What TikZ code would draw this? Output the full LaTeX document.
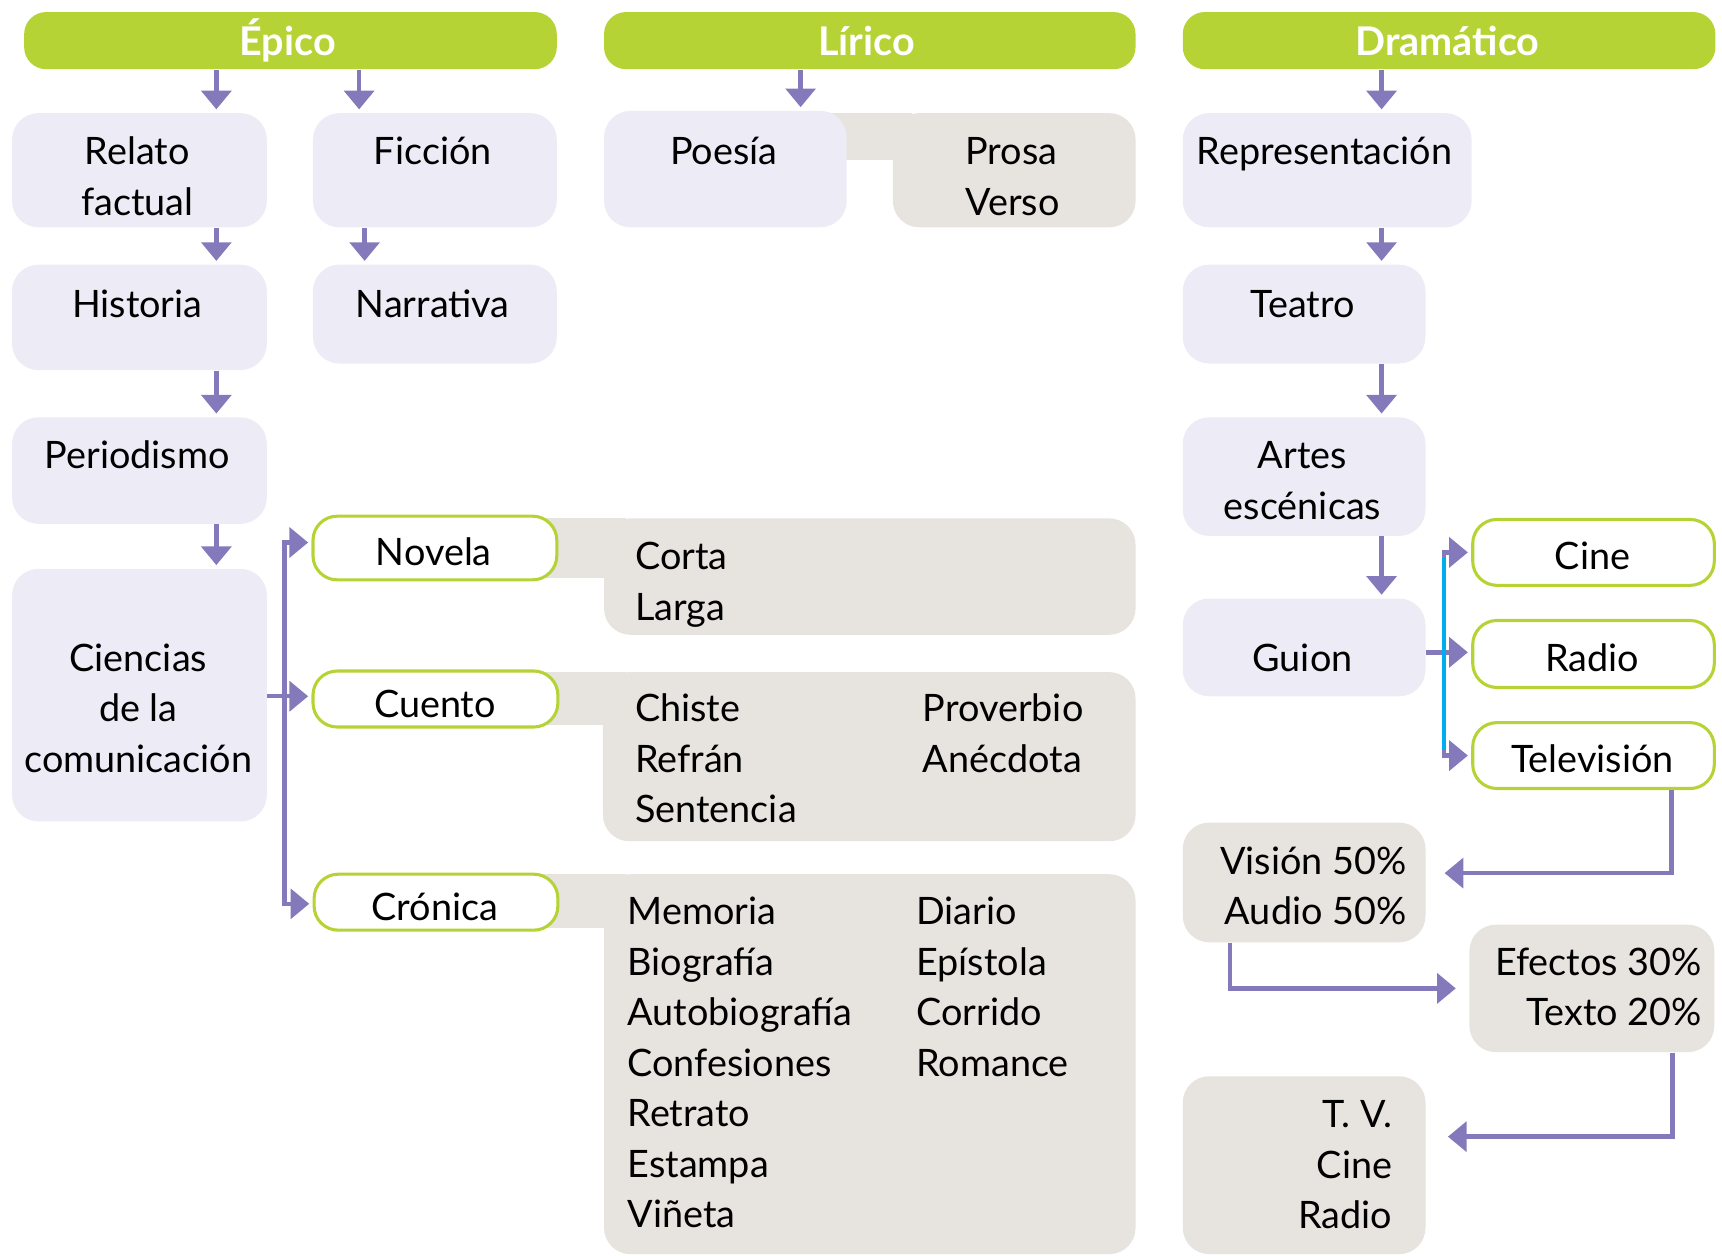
\documentclass[tikz,border=0pt]{standalone}
\usepackage{fontspec}
\setmainfont{Lato}
\usetikzlibrary{arrows.meta,fit,calc}
\definecolor{hgreen}{HTML}{B5D334}
\definecolor{lav}{HTML}{EDEBF5}
\definecolor{beige}{HTML}{E7E3DF}
\definecolor{pur}{HTML}{8479BB}
\definecolor{cyn}{HTML}{00AEEF}
\newcommand\tx[4]{\node[txt,anchor=#1] (#2) at (#3) {#4};}
\begin{document}
\begin{tikzpicture}[x=0.5pt,y=-0.5pt,
  hdr/.style={fill=hgreen, rounded corners=10pt, inner sep=0pt},
  htxt/.style={text=white, font=\fontsize{18}{20}\selectfont\bfseries, inner sep=0pt},
  lavbox/.style={fill=lav, rounded corners=12pt, inner sep=0pt},
  beigebox/.style={fill=beige, rounded corners=12pt, inner sep=0pt},
  grbox/.style={fill=white, draw=hgreen, line width=1.4pt, rounded corners=11pt, inner sep=0pt},
  txt/.style={text=black, font=\fontsize{17.2}{20}\selectfont, inner sep=0pt},
  arr/.style={draw=pur, line width=2pt, line join=miter, -{Triangle[width=13.5pt,length=8.5pt]}, shorten >=1.5pt},
  ln/.style={draw=pur, line width=2pt, line join=miter}]
\useasboundingbox (0,0) rectangle (1568,1143);

% headers
\node[hdr, fit={(22,11)(507,63)}] (epico) {};
\node[hdr, fit={(550,11)(1034,63)}] (lirico) {};
\node[hdr, fit={(1077,11)(1562,63)}] (drama) {};
\node[htxt, anchor=base] (epicot) at (262,51) {Épico};
\node[htxt, anchor=base] (liricot) at (789,51) {Lírico};
\node[htxt, anchor=base] (dramat) at (1318,51) {Dramático};

% beige backgrounds with bands
\fill[beige] (700,103) rectangle (830,146);
\node[beigebox, fit={(813,103)(1034,207)}] (prosa) {};
\fill[beige] (400,472) rectangle (570,526);
\node[beigebox, fit={(550,472)(1034,578)}] (novlist) {};
\fill[beige] (400,612) rectangle (570,660);
\node[beigebox, fit={(549,612)(1034,766)}] (cuelist) {};
\fill[beige] (400,796) rectangle (570,845);
\node[beigebox, fit={(550,796)(1034,1142)}] (crolist) {};

% lavender boxes
\node[lavbox, fit={(11,103)(243,207)}] (relato) {};
\node[lavbox, fit={(285,103)(507,207)}] (ficcion) {};
\node[lavbox, fit={(11,241)(243,337)}] (historia) {};
\node[lavbox, fit={(285,241)(507,331)}] (narrativa) {};
\node[lavbox, fit={(11,380)(243,477)}] (periodismo) {};
\node[lavbox, fit={(11,518)(243,748)}] (ciencias) {};
\node[lavbox, fit={(550,101)(771,207)}] (poesia) {};
\node[lavbox, fit={(1077,103)(1340,207)}] (repres) {};
\node[lavbox, fit={(1077,241)(1298,331)}] (teatro) {};
\node[lavbox, fit={(1077,380)(1298,488)}] (artes) {};
\node[lavbox, fit={(1077,545)(1298,634)}] (guion) {};

% green outlined boxes
\node[grbox, fit={(285,470)(507,528)}] (novela) {};
\node[grbox, fit={(285,611)(508,662)}] (cuento) {};
\node[grbox, fit={(286,796)(508,847)}] (cronica) {};
\node[grbox, fit={(1341,473)(1561,533)}] (cine) {};
\node[grbox, fit={(1341,565)(1561,626)}] (radio) {};
\node[grbox, fit={(1341,658)(1561,718)}] (tele) {};

% beige boxes (Dramático)
\node[beigebox, fit={(1077,749)(1298,858)}] (vision) {};
\node[beigebox, fit={(1338,842)(1561,958)}] (efectos) {};
\node[beigebox, fit={(1077,980)(1298,1142)}] (tvbox) {};

% texts
\tx{base}{t1}{125,150}{Relato}
\tx{base}{t2}{125,196}{factual}
\tx{base}{t3}{394,150}{Ficción}
\tx{base}{t4}{125,289}{Historia}
\tx{base}{t5}{394,289}{Narrativa}
\tx{base}{t6}{125,427}{Periodismo}
\tx{base}{t7}{126,611}{Ciencias}
\tx{base}{t8}{126,657}{de la}
\tx{base}{t9}{126,703}{comunicación}
\tx{base}{t10}{659,150}{Poesía}
\tx{base}{t11}{921,150}{Prosa}
\tx{base}{t12}{922,196}{Verso}
\tx{base}{t13}{395,515}{Novela}
\tx{base}{t14}{396,653}{Cuento}
\tx{base}{t15}{396,838}{Crónica}
\tx{base west}{t16}{578,519}{Corta}
\tx{base west}{t17}{578,565}{Larga}
\tx{base west}{t18}{578,657}{Chiste}
\tx{base west}{t19}{578,703}{Refrán}
\tx{base west}{t20}{578,749}{Sentencia}
\tx{base west}{t21}{840,657}{Proverbio}
\tx{base west}{t22}{840,703}{Anécdota}
\tx{base west}{t23}{571,842}{Memoria}
\tx{base west}{t24}{571,888}{Biografía}
\tx{base west}{t25}{571,934}{Autobiografía}
\tx{base west}{t26}{571,980}{Confesiones}
\tx{base west}{t27}{571,1026}{Retrato}
\tx{base west}{t28}{571,1072}{Estampa}
\tx{base west}{t29}{571,1118}{Viñeta}
\tx{base west}{t30}{834,842}{Diario}
\tx{base west}{t31}{834,888}{Epístola}
\tx{base west}{t32}{834,934}{Corrido}
\tx{base west}{t33}{834,980}{Romance}
\tx{base}{t34}{1206,150}{Representación}
\tx{base}{t35}{1186,289}{Teatro}
\tx{base}{t36}{1186,427}{Artes}
\tx{base}{t37}{1186,473}{escénicas}
\tx{base}{t38}{1186,611}{Guion}
\tx{base}{t39}{1450,519}{Cine}
\tx{base}{t40}{1450,611}{Radio}
\tx{base}{t41}{1450,703}{Televisión}
\tx{base east}{t42}{1281,796}{Visión 50\%}
\tx{base east}{t43}{1281,842}{Audio 50\%}
\tx{base east}{t44}{1550,888}{Efectos 30\%}
\tx{base east}{t45}{1550,934}{Texto 20\%}
\tx{base east}{t46}{1268,1027}{T. V.}
\tx{base east}{t47}{1268,1073}{Cine}
\tx{base east}{t48}{1268,1119}{Radio}

% column coordinates
\coordinate (ca) at (197,0);
\coordinate (cb) at (327,0);
\coordinate (cc) at (332,0);
\coordinate (cd) at (729,0);
\coordinate (ce) at (1258,0);

% vertical arrows
\draw[arr] (epico.south -| ca) -- (relato.north -| ca);
\draw[arr] (epico.south -| cb) -- (ficcion.north -| cb);
\draw[arr] (relato.south -| ca) -- (historia.north -| ca);
\draw[arr] (ficcion.south -| cc) -- (narrativa.north -| cc);
\draw[arr] (historia.south -| ca) -- (periodismo.north -| ca);
\draw[arr] (periodismo.south -| ca) -- (ciencias.north -| ca);
\draw[arr] (lirico.south -| cd) -- (poesia.north -| cd);
\draw[arr] (drama.south -| ce) -- (repres.north -| ce);
\draw[arr] (repres.south -| ce) -- (teatro.north -| ce);
\draw[arr] (teatro.south -| ce) -- (artes.north -| ce);
\draw[arr] (artes.south -| ce) -- (guion.north -| ce);

% Épico branch
\coordinate (nv) at (259,494);
\coordinate (cr) at (259,823);
\coordinate (cu) at (259,634);
\draw[arr] (cr) -- (nv) -- (novela.west |- nv);
\draw[arr] (nv) -- (cr) -- (cronica.west |- cr);
\draw[arr] (ciencias.east |- cu) -- (cuento.west |- cu);

% Dramático branch
\coordinate (dt) at (1315,503);
\coordinate (db) at (1315,688);
\coordinate (dr) at (1315,594);
\draw[arr] (db) -- (dt) -- (cine.west |- dt);
\draw[arr] (dt) -- (db) -- (tele.west |- db);
\draw[arr] (guion.east |- dr) -- (radio.west |- dr);
\draw[cyn, line width=2pt] ($(dt)+(0,5)$) -- ($(db)+(0,-5)$);

% lower Dramático connectors
\coordinate (k1) at (1522,795);
\draw[arr, shorten >=8.5pt] (tele.south -| k1) -- (k1) -- (vision.east |- k1);
\coordinate (k2) at (1120,900);
\draw[arr, shorten >=6pt] (vision.south -| k2) -- (k2) -- (efectos.west |- k2);
\coordinate (k3) at (1523,1035);
\draw[arr, shorten >=10pt] (efectos.south -| k3) -- (k3) -- (tvbox.east |- k3);
\end{tikzpicture}
\end{document}
